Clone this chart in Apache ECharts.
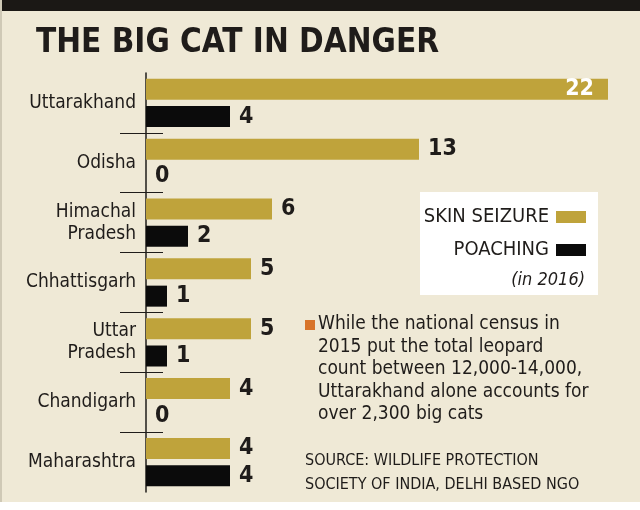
<!DOCTYPE html>
<html>
<head>
<meta charset="utf-8">
<script src="https://cdn.jsdelivr.net/npm/echarts@6/dist/echarts.min.js"></script>
<style>
  html, body { margin: 0; padding: 0; background: #fff; }
  #chart { width: 640px; height: 510px; }
</style>
</head>
<body>
<div id="chart"></div>
<script>
// states, top to bottom
const states = ['Uttarakhand', 'Odisha', 'Himachal\nPradesh', 'Chhattisgarh', 'Uttar\nPradesh', 'Chandigarh', 'Maharashtra']
// cases in 2016
const skinSeizure = [22, 13, 6, 5, 5, 4, 4]
const poaching = [4, 0, 2, 1, 1, 0, 4]
// tick marks between the states
const tickValues = [1, 2, 3, 4, 5, 6]

const cond = "'Liberation Sans Narrow', 'DejaVu Sans Condensed', 'Arial Narrow', sans-serif"
const gold = '#bfa33b'
const ink = '#1f1c1a'
const paper = '#efe9d6'

const chart = echarts.init(document.getElementById('chart'))

const valueLabel = {
    show: true,
    position: 'right',
    distance: 9,
    fontFamily: cond,
    fontWeight: 'bold',
    fontSize: 23,
    color: ink
}

// one value axis just for the little ticks that cross the axis line
function tickAxis (inside, len) {
    return {
        type: 'value',
        position: 'left',
        inverse: true,
        min: 0,
        max: states.length,
        axisLine: { show: false },
        axisLabel: { show: false },
        splitLine: { show: false },
        axisTick: {
            show: true,
            inside: inside,
            length: len,
            customValues: tickValues,
            lineStyle: { color: ink, width: 1 }
        }
    }
}

let option = {
    backgroundColor: '#ffffff',
    animation: false,
    graphic: [
        { type: 'rect', z: -10, shape: { x: 0, y: 0, width: 640, height: 502 }, style: { fill: paper } },
        { type: 'rect', z: -9, shape: { x: 0, y: 0, width: 640, height: 11 }, style: { fill: '#1b1815' } },
        { type: 'rect', z: -9, shape: { x: 0, y: 0, width: 2, height: 502 }, style: { fill: '#cfc9b6' } },
        // legend box
        { type: 'rect', z: -8, shape: { x: 420, y: 192, width: 178, height: 103 }, style: { fill: '#ffffff' } },
        {
            type: 'text', right: 640 - 585, top: 271,
            style: { text: '(in 2016)', font: 'italic 18px ' + cond, fill: ink, textAlign: 'right' }
        },
        // note
        { type: 'rect', shape: { x: 305, y: 320, width: 10, height: 10 }, style: { fill: '#d8742a' } },
        {
            type: 'text', left: 318, top: 313,
            style: {
                text: 'While the national census in\n2015 put the total leopard\ncount between 12,000-14,000,\nUttarakhand alone accounts for\nover 2,300 big cats',
                font: '19px ' + cond, lineHeight: 22.5, fill: ink
            }
        },
        {
            type: 'text', left: 305, top: 449,
            style: {
                text: 'SOURCE: WILDLIFE PROTECTION\nSOCIETY OF INDIA, DELHI BASED NGO',
                font: '16px ' + cond, lineHeight: 24, fill: ink
            }
        }
    ],
    title: {
        text: 'THE BIG CAT IN DANGER',
        left: 31,
        top: 22,
        textStyle: {
            fontFamily: cond,
            fontWeight: 'bold',
            fontSize: 33,
            color: ink
        }
    },
    legend: {
        orient: 'vertical',
        align: 'right',
        right: 49,
        top: 202,
        itemWidth: 30,
        itemHeight: 12,
        itemGap: 13,
        icon: 'rect',
        data: ['SKIN SEIZURE', 'POACHING'],
        textStyle: { fontFamily: cond, fontSize: 20, color: ink, padding: [0, 2, 0, 0] }
    },
    grid: {
        left: 146,
        right: 32,
        top: 73,
        bottom: 18,
        containLabel: false
    },
    xAxis: {
        type: 'value',
        min: 0,
        max: 22,
        show: false
    },
    yAxis: [
        {
            type: 'category',
            inverse: true,
            data: states,
            axisLine: { show: true, lineStyle: { color: ink, width: 1.5 } },
            axisTick: { show: false },
            axisLabel: {
                margin: 10,
                fontFamily: cond,
                fontSize: 19,
                lineHeight: 22,
                color: ink,
                align: 'right'
            }
        },
        tickAxis(false, 26),
        tickAxis(true, 17)
    ],
    series: [
        {
            name: 'SKIN SEIZURE',
            type: 'bar',
            yAxisIndex: 0,
            barWidth: 21,
            barGap: '30%',
            itemStyle: { color: gold },
            label: valueLabel,
            data: skinSeizure.map(function (v, i) {
                // the longest bar keeps its number inside, in white
                return i === 0 ? { value: v, label: { position: 'insideRight', distance: 14, color: '#ffffff' } } : v
            })
        },
        {
            name: 'POACHING',
            type: 'bar',
            yAxisIndex: 0,
            barWidth: 21,
            barGap: '30%',
            itemStyle: { color: '#0b0b0b' },
            label: valueLabel,
            data: poaching
        }
    ]
}
chart.setOption(option)
</script>
</body>
</html>
